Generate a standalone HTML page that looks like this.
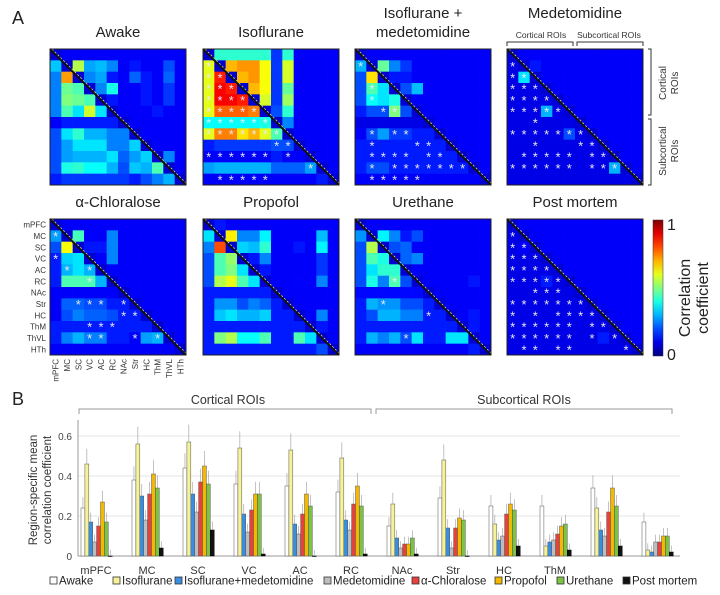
<!DOCTYPE html>
<html><head><meta charset="utf-8">
<style>
body{margin:0;background:#fff;font-family:"Liberation Sans",sans-serif;}
svg{display:block}
</style></head><body>
<svg id="fig" width="720" height="595" viewBox="0 0 720 595" xmlns="http://www.w3.org/2000/svg" font-family="Liberation Sans, sans-serif">
<text x="12" y="24" font-size="18" fill="#222">A</text>
<text x="12" y="405" font-size="18" fill="#222">B</text>
<g id="heatmaps"></g>
<g id="bars"></g>
</svg>
<script>
// ---------- Heatmap data ----------
const rois = ["mPFC","MC","SC","VC","AC","RC","NAc","Str","HC","ThM","ThVL","HTh"];
const panelTitles = ["Awake","Isoflurane","Isoflurane +|medetomidine","Medetomidine","α-Chloralose","Propofol","Urethane","Post mortem"];
const mAwake = [[],[0.32],[0.25,0.72],[0.25,0.48,0.45],[0.25,0.5,0.48,0.45],[0.25,0.45,0.35,0.58,0.35],[0.12,0.15,0.15,0.15,0.15,0.15],[0.2,0.35,0.42,0.3,0.3,0.25,0.25],[0.2,0.28,0.35,0.35,0.35,0.25,0.25,0.33],[0.2,0.28,0.3,0.3,0.3,0.35,0.22,0.28,0.33],[0.2,0.4,0.42,0.38,0.38,0.3,0.2,0.32,0.3,0.45],[0.15,0.18,0.18,0.18,0.18,0.18,0.18,0.15,0.2,0.25,0.3]];
const mIso = [[],[0.6],[0.6,0.85],[0.6,0.88,0.85],[0.6,0.88,0.88,0.85],[0.6,0.78,0.78,0.78,0.75],[0.38,0.38,0.38,0.38,0.38,0.4],[0.6,0.75,0.75,0.65,0.7,0.6,0.45],[0.15,0.18,0.18,0.18,0.18,0.18,0.2,0.2],[0.12,0.12,0.12,0.12,0.12,0.12,0.15,0.12,0.12],[0.28,0.3,0.3,0.3,0.3,0.3,0.22,0.22,0.22,0.28],[0.12,0.12,0.12,0.12,0.12,0.12,0.12,0.12,0.12,0.12,0.15]];
const mIsoMed = [[],[0.3],[0.2,0.65],[0.2,0.45,0.35],[0.2,0.38,0.35,0.4],[0.15,0.2,0.2,0.5,0.2],[0.1,0.1,0.1,0.1,0.1,0.1],[0.12,0.2,0.28,0.18,0.18,0.15,0.15],[0.15,0.15,0.15,0.15,0.15,0.15,0.15,0.15],[0.15,0.15,0.15,0.15,0.15,0.15,0.15,0.15,0.15],[0.15,0.2,0.2,0.15,0.15,0.15,0.15,0.15,0.15,0.15],[0.12,0.12,0.12,0.12,0.12,0.12,0.12,0.12,0.12,0.12,0.12]];
const mMed = [[],[0.1],[0.1,0.35],[0.1,0.1,0.1],[0.1,0.1,0.1,0.1],[0.1,0.1,0.1,0.3,0.1],[0.1,0.1,0.1,0.1,0.1,0.1],[0.1,0.1,0.1,0.1,0.1,0.2,0.1],[0.1,0.1,0.1,0.1,0.1,0.1,0.1,0.1],[0.1,0.1,0.1,0.1,0.1,0.1,0.1,0.1,0.1],[0.1,0.1,0.1,0.1,0.1,0.1,0.1,0.1,0.1,0.3],[0.1,0.1,0.1,0.1,0.1,0.1,0.1,0.1,0.1,0.1,0.1]];
const mChlor = [[],[0.28],[0.2,0.62],[0.15,0.33,0.35],[0.15,0.3,0.35,0.3],[0.15,0.45,0.45,0.45,0.3],[0.12,0.12,0.12,0.12,0.12,0.12],[0.12,0.22,0.22,0.2,0.2,0.15,0.15],[0.12,0.2,0.25,0.22,0.22,0.2,0.15,0.15],[0.15,0.15,0.15,0.15,0.15,0.15,0.15,0.15,0.15],[0.15,0.25,0.3,0.25,0.25,0.15,0.15,0.12,0.28,0.3],[0.12,0.12,0.12,0.12,0.12,0.12,0.12,0.12,0.12,0.12,0.12]];
const mProp = [[],[0.35],[0.25,0.8],[0.2,0.45,0.52],[0.2,0.45,0.5,0.35],[0.2,0.55,0.6,0.45,0.35],[0.15,0.15,0.15,0.15,0.15,0.15],[0.15,0.27,0.27,0.2,0.25,0.22,0.15],[0.15,0.32,0.35,0.3,0.3,0.33,0.15,0.15],[0.15,0.15,0.15,0.15,0.15,0.15,0.15,0.15,0.15],[0.15,0.5,0.55,0.38,0.38,0.45,0.15,0.15,0.45,0.35],[0.15,0.15,0.15,0.15,0.15,0.15,0.15,0.15,0.15,0.15,0.2]];
const mUre = [[],[0.27],[0.2,0.55],[0.2,0.45,0.4],[0.2,0.35,0.42,0.42],[0.2,0.4,0.25,0.45,0.2],[0.13,0.13,0.13,0.13,0.13,0.13],[0.15,0.3,0.27,0.27,0.2,0.2,0.15],[0.15,0.2,0.3,0.3,0.25,0.25,0.15,0.15],[0.15,0.15,0.15,0.15,0.15,0.15,0.15,0.15,0.15],[0.15,0.3,0.25,0.3,0.2,0.35,0.15,0.15,0.35,0.35],[0.12,0.12,0.12,0.12,0.12,0.12,0.12,0.12,0.12,0.12,0.15]];
const mPM = [[],[0.1],[0.1,0.12],[0.1,0.1,0.1],[0.1,0.1,0.1,0.1],[0.1,0.1,0.1,0.15,0.1],[0.1,0.1,0.1,0.1,0.1,0.1],[0.1,0.1,0.1,0.1,0.1,0.1,0.1],[0.1,0.1,0.1,0.1,0.1,0.1,0.1,0.1],[0.1,0.1,0.1,0.1,0.1,0.1,0.1,0.1,0.1],[0.1,0.1,0.1,0.1,0.1,0.1,0.1,0.1,0.15,0.1],[0.1,0.1,0.1,0.1,0.1,0.1,0.1,0.1,0.1,0.1,0.1]];
const starsAwake = "";
const starsIso = "1,0 2,0 3,0 4,0 5,0 2,1 3,1 3,2 4,1 4,2 4,3 5,1 5,2 5,3 5,4 6,0 6,1 6,2 6,3 6,4 6,5 7,0 7,1 7,2 7,3 7,4 7,5 7,6 8,6 8,7 9,0 9,1 9,2 9,3 9,4 9,5 9,7 10,9 11,1 11,2 11,3 11,4 11,5";
const starsIsoMed = "1,0 3,1 4,1 5,2 5,3 7,1 7,3 7,4 8,1 8,5 8,6 9,1 9,2 9,3 9,4 9,6 9,7 10,1 10,3 10,4 10,5 10,6 10,7 10,8 10,9 11,1 11,2 11,3 11,4 11,5";
const starsMed = "1,0 2,0 2,1 3,0 3,1 3,2 4,0 4,1 4,2 4,3 5,0 5,1 5,2 5,3 5,4 6,2 7,0 7,1 7,2 7,3 7,4 7,5 7,6 8,2 8,6 8,7 9,1 9,2 9,3 9,4 9,5 9,7 9,8 10,0 10,1 10,2 10,3 10,4 10,5 10,7 10,8 10,9";
const starsChlor = "1,0 3,0 4,1 4,3 5,3 7,2 7,3 7,4 7,6 8,6 8,7 9,3 9,4 9,5 10,3 10,4 10,7 10,9";
const starsProp = "";
const starsUre = "5,3 7,2 8,6 10,4";
const starsPM = "1,0 2,0 2,1 3,0 3,1 3,2 4,0 4,1 4,2 4,3 5,0 5,1 5,2 5,3 5,4 6,2 6,3 6,4 7,0 7,1 7,2 7,3 7,4 7,5 7,6 8,0 8,2 8,4 8,5 8,6 8,7 9,0 9,1 9,2 9,3 9,4 9,5 9,7 9,8 10,0 10,1 10,2 10,3 10,4 10,5 10,7 10,9 11,1 11,2 11,4 11,5 11,10";
const matrices = [mAwake,mIso,mIsoMed,mMed,mChlor,mProp,mUre,mPM];
const starSets = [starsAwake,starsIso,starsIsoMed,starsMed,starsChlor,starsProp,starsUre,starsPM];

// ---------- Bar data ----------
const regions = ["mPFC","MC","SC","VC","AC","RC","NAc","Str","HC","ThM","ThVL","HTh"];
const regionLabels = ["mPFC","MC","SC","VC","AC","RC","NAc","Str","HC","ThM","",""];
const conditions = ["Awake","Isoflurane","Isoflurane+medetomidine","Medetomidine","α-Chloralose","Propofol","Urethane","Post mortem"];
const vAwake = [0.24,0.38,0.44,0.36,0.35,0.32,0.15,0.29,0.25,0.25,0.34,0.17];
const vIso = [0.46,0.56,0.57,0.54,0.53,0.49,0.26,0.48,0.16,0.05,0.24,0.03];
const vIsoMed = [0.17,0.30,0.31,0.21,0.16,0.18,0.09,0.14,0.08,0.07,0.13,0.02];
const vMed = [0.07,0.18,0.22,0.12,0.11,0.13,0.04,0.04,0.10,0.08,0.10,0.07];
const vChlor = [0.15,0.31,0.37,0.23,0.21,0.26,0.06,0.14,0.21,0.11,0.22,0.07];
const vProp = [0.27,0.41,0.45,0.31,0.31,0.35,0.06,0.19,0.26,0.15,0.34,0.10];
const vUre = [0.17,0.34,0.36,0.31,0.25,0.25,0.09,0.18,0.23,0.16,0.25,0.10];
const vPM = [0.0,0.04,0.13,0.01,0.0,0.01,0.01,0.0,0.05,0.03,0.05,0.02];
const series = [vAwake,vIso,vIsoMed,vMed,vChlor,vProp,vUre,vPM];
const yTicks = [0,0.2,0.4,0.6];
const yTickLabels = ["0","0.2","0.4","0.6"];

const NS="http://www.w3.org/2000/svg";
function mk(tag,attrs,parent){const e=document.createElementNS(NS,tag);for(const k in attrs)e.setAttribute(k,attrs[k]);parent.appendChild(e);return e;}
function jet(v){v=Math.max(0,Math.min(1,v));
 const r=Math.max(0,Math.min(1,1.5-Math.abs(4*v-3)));
 const g=Math.max(0,Math.min(1,1.5-Math.abs(4*v-2)));
 const b=Math.max(0,Math.min(1,1.5-Math.abs(4*v-1)));
 return `rgb(${Math.round(r*255)},${Math.round(g*255)},${Math.round(b*255)})`;}

// ---------- Draw heatmaps ----------
const hm=document.getElementById('heatmaps');
const px=[50,203,355,507], py=[49,219], S=136, n=12, cs=S/n;
matrices.forEach((M,p)=>{
 const x0=px[p%4], y0=py[Math.floor(p/4)];
 const g=mk('g',{},hm);
 
 
 const tl=panelTitles[p].split('|');
 let ty = tl.length>1 ? y0-31 : y0-12;
 if(p===3) ty = y0-31;
 tl.forEach((t,i)=>{const te=mk('text',{x:x0+S/2,y:ty+i*19,'font-size':15,'text-anchor':'middle',fill:'#222'},g);te.textContent=t;
  });
 for(let r=0;r<n;r++)for(let c=0;c<n;c++){
  let v;
  if(c<r) v=M[r][c];
  else if(c>r) v=Math.max(0.12,1.1*M[c][r]-0.24);
  else v=0.08;
  const rc=mk('rect',{x:x0+c*cs,y:y0+r*cs,width:cs+0.3,height:cs+0.3,fill:jet(v)},g);
  
  
 }
 mk('line',{x1:x0,y1:y0,x2:x0+S,y2:y0+S,stroke:'#111','stroke-width':2},g);
 mk('line',{x1:x0+2,y1:y0,x2:x0+S,y2:y0+S-2,stroke:'#d8d870','stroke-width':0.8,'stroke-dasharray':'2 2'},g);
 mk('rect',{x:x0,y:y0,width:S,height:S,fill:'none',stroke:'#222','stroke-width':1},g);
 if(starSets[p]) starSets[p].split(' ').forEach(s=>{const [r,c]=s.split(',').map(Number);
  const st=mk('text',{x:x0+c*cs+cs/2,y:y0+r*cs+cs/2+5,'font-size':13,'text-anchor':'middle',fill:'#e8e8f4'},g);st.textContent='*';
  });
});
(function(){const x0=px[0],y0=py[1];
 rois.forEach((r,i)=>{const t=mk('text',{x:x0-4,y:y0+i*cs+cs/2+3,'font-size':8,'text-anchor':'end',fill:'#333'},hm);t.textContent=r;
  
  const t2=mk('text',{x:0,y:0,'font-size':8,'text-anchor':'end',fill:'#333',transform:`translate(${x0+i*cs+cs/2+3},${y0+S+4}) rotate(-90)`},hm);t2.textContent=r;
  });
})();
(function(){const x0=px[3],y0=py[0];const c='#333';
 mk('path',{d:`M${x0} ${y0-3} v-4 H${x0+S/2-2} v4`,fill:'none',stroke:c},hm);
 mk('path',{d:`M${x0+S/2+2} ${y0-3} v-4 H${x0+S} v4`,fill:'none',stroke:c},hm);
 let t=mk('text',{x:x0+S/4,y:y0-11,'font-size':8.5,'text-anchor':'middle',fill:'#333'},hm);t.textContent='Cortical ROIs';
 
 t=mk('text',{x:x0+3*S/4,y:y0-11,'font-size':8.5,'text-anchor':'middle',fill:'#333'},hm);t.textContent='Subcortical ROIs';
 
 const xr=x0+S+8;
 mk('path',{d:`M${xr-3} ${y0} h3 V${y0+S/2-2} h-3`,fill:'none',stroke:c},hm);
 mk('path',{d:`M${xr-3} ${y0+S/2+2} h3 V${y0+S} h-3`,fill:'none',stroke:c},hm);
 [['Cortical','ROIs',y0+S/4],['Subcortical','ROIs',y0+3*S/4]].forEach(a=>{
  const te=mk('text',{'font-size':10,'text-anchor':'middle',fill:'#333',transform:`translate(${xr+15},${a[2]}) rotate(-90)`},hm);te.textContent=a[0];
  
  const te2=mk('text',{'font-size':10,'text-anchor':'middle',fill:'#333',transform:`translate(${xr+27},${a[2]}) rotate(-90)`},hm);te2.textContent=a[1];
  });
})();
(function(){const x=653,y=220,w=10,h=136;
 const defs=mk('defs',{},hm);const lg=mk('linearGradient',{id:'jetg',x1:0,y1:1,x2:0,y2:0},defs);
 for(let i=0;i<=10;i++)mk('stop',{offset:i/10,'stop-color':jet(i/10)},lg);
 const cb=mk('rect',{x:x,y:y,width:w,height:h,fill:'url(#jetg)',stroke:'#333','stroke-width':0.5},hm);
 
 let t=mk('text',{x:x+14,y:y+10,'font-size':16,fill:'#222'},hm);t.textContent='1';
 
 t=mk('text',{x:x+14,y:y+h+4,'font-size':16,fill:'#222'},hm);t.textContent='0';
 
 t=mk('text',{'font-size':16,'text-anchor':'middle',fill:'#222',transform:`translate(${x+37},${y+h/2+10}) rotate(-90)`},hm);t.textContent='Correlation';
 
 t=mk('text',{'font-size':16,'text-anchor':'middle',fill:'#222',transform:`translate(${x+55},${y+h/2+10}) rotate(-90)`},hm);t.textContent='coefficient';
 
})();

// ---------- Bar chart ----------
const bg=document.getElementById('bars');
const ax0=78, ax1=680, y0=556, pxPer=200;
const yS=v=>y0-v*pxPer;
const groupX=i=>81+51*i;
const bw=3.9;
const colors=['#ffffff','#f5f29a','#3a8ee0','#bdbdbd','#e8413c','#f5b800','#7cc243','#111111'];
yTicks.forEach((t,i)=>{
 if(t>0){const gl=mk('line',{x1:ax0,y1:yS(t),x2:ax1,y2:yS(t),stroke:'#e4e4e4','stroke-width':1},bg);
  }
 const tx=mk('text',{x:ax0-6,y:yS(t)+4,'font-size':10,'text-anchor':'end',fill:'#444'},bg);tx.textContent=yTickLabels[i];
 
});
mk('line',{x1:ax0,y1:y0-136,x2:ax0,y2:y0,stroke:'#999'},bg);
mk('line',{x1:ax0,y1:y0,x2:ax1,y2:y0,stroke:'#999'},bg);
let yt=mk('text',{'font-size':11.5,'text-anchor':'middle',fill:'#333',transform:`translate(37,490) rotate(-90)`},bg);yt.textContent='Region-specific mean';

yt=mk('text',{'font-size':11.5,'text-anchor':'middle',fill:'#333',transform:`translate(51,490) rotate(-90)`},bg);yt.textContent='correlation coefficient';

regions.forEach((r,i)=>{
 series.forEach((s,k)=>{
  const x=groupX(i)+k*bw, v=s[i];
  const b=mk('rect',{x:x,y:yS(v),width:bw,height:Math.max(0.5,v*pxPer),fill:colors[k],stroke:k===7?'#000':'#555','stroke-width':0.5},bg);
  
  
  const e=mk('line',{x1:x+bw/2,y1:yS(v),x2:x+bw/2,y2:yS(v)-6-v*20,stroke:'#999','stroke-width':0.6},bg);
  
 });
 if(regionLabels[i]){const t=mk('text',{x:groupX(i)+15,y:574,'font-size':11,'text-anchor':'middle',fill:'#333'},bg);t.textContent=regionLabels[i];
  }
});
mk('path',{d:'M79 414 v-5 H371 v5',fill:'none',stroke:'#999'},bg);
mk('path',{d:'M376 414 v-5 H672 v5',fill:'none',stroke:'#999'},bg);
let bt=mk('text',{x:228,y:404,'font-size':12.5,'text-anchor':'middle',fill:'#333'},bg);bt.textContent='Cortical ROIs';

bt=mk('text',{x:524,y:404,'font-size':12.5,'text-anchor':'middle',fill:'#333'},bg);bt.textContent='Subcortical ROIs';

const legX=[50,113,175,324,412,495,557,623];
conditions.forEach((c,k)=>{
 const g=mk('g',{},bg);
 mk('rect',{x:legX[k],y:577,width:7,height:7,fill:colors[k],stroke:'#333','stroke-width':0.8},g);
 const t=mk('text',{x:legX[k]+9,y:584.5,'font-size':11.5,fill:'#222'},g);t.textContent=c;
});
</script>
</body></html>
